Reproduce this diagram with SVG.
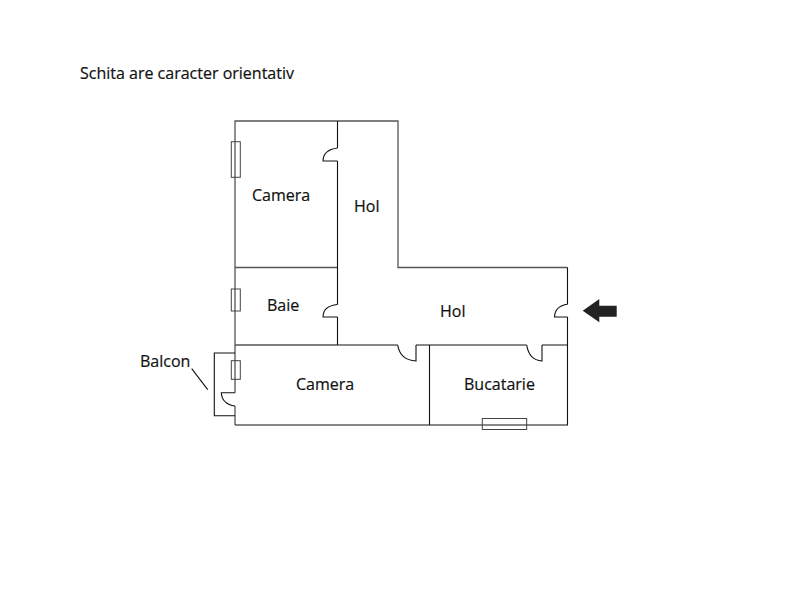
<svg xmlns="http://www.w3.org/2000/svg" width="799" height="602" viewBox="0 0 799 602">
<style>
.w{fill:none;stroke:#111;stroke-width:1.1}
.g{fill:none;stroke:#555;stroke-width:1.3}
.win{fill:none;stroke:#444;stroke-width:1}
text{font-family:"Open Sans","Noto Sans","Liberation Sans",sans-serif;font-size:16px;fill:#111;stroke:#111;stroke-width:.2}
</style>
<rect width="799" height="602" fill="#fff"/>
<g id="walls">
<path class="g" d="M235 392.7V121H398V267.5H567.5"/>
<path class="g" d="M235 267.5H337.5M235 345H337.5"/>
<path class="g" d="M235 406V425"/>
<path class="w" d="M337.5 121V148M337.5 161V304.5M337.5 317V345"/>
<path class="w" d="M337.5 345H397.7M416 345H526.7M542 345H567.5"/>
<path class="w" d="M567.5 267.5V304.3M567.5 317V345"/>
<path class="w" d="M567.5 345V425H235M429.5 345V425"/>
<path class="w" d="M235 353H214.3V415.7H235"/>
</g>
<g id="doors">
<path class="w" d="M337.5 148Q323 150 323 161H337.5"/>
<path class="w" d="M337.5 304.5Q323 306 323 317H337.5"/>
<path class="w" d="M567.5 304.3Q555 306 554.5 317H567.5"/>
<path class="w" d="M235 406Q222 404 221.3 392.7H235"/>
<path class="w" d="M397.7 345Q400 360 416 361V345"/>
<path class="w" d="M526.7 345Q529 360 542 361V345"/>
</g>
<g id="windows">
<rect class="win" x="231.3" y="141.7" width="9" height="35.6"/>
<rect class="win" x="231.3" y="289" width="9" height="22"/>
<rect class="win" x="231.3" y="360.7" width="9" height="18.6"/>
<rect class="win" x="482.3" y="418.5" width="44.4" height="11"/>
</g>
<g id="connectors">
<path class="w" d="M191.7 368.7L207.7 389.7"/>
</g>
<g id="entrance-arrow">
<path fill="#222" d="M582.7 310.7L599.3 299V305.7H616.7V316.7H599.3V322.3Z"/>
</g>
<g id="labels">
<text x="80" y="78.5">Schita are caracter orientativ</text>
<text x="252" y="200.5">Camera</text>
<text x="354" y="211.5">Hol</text>
<text x="267" y="310.5">Baie</text>
<text x="440" y="316.5">Hol</text>
<text x="140" y="366.5">Balcon</text>
<text x="296" y="389.5">Camera</text>
<text x="464" y="389.5">Bucatarie</text>
</g>
</svg>
